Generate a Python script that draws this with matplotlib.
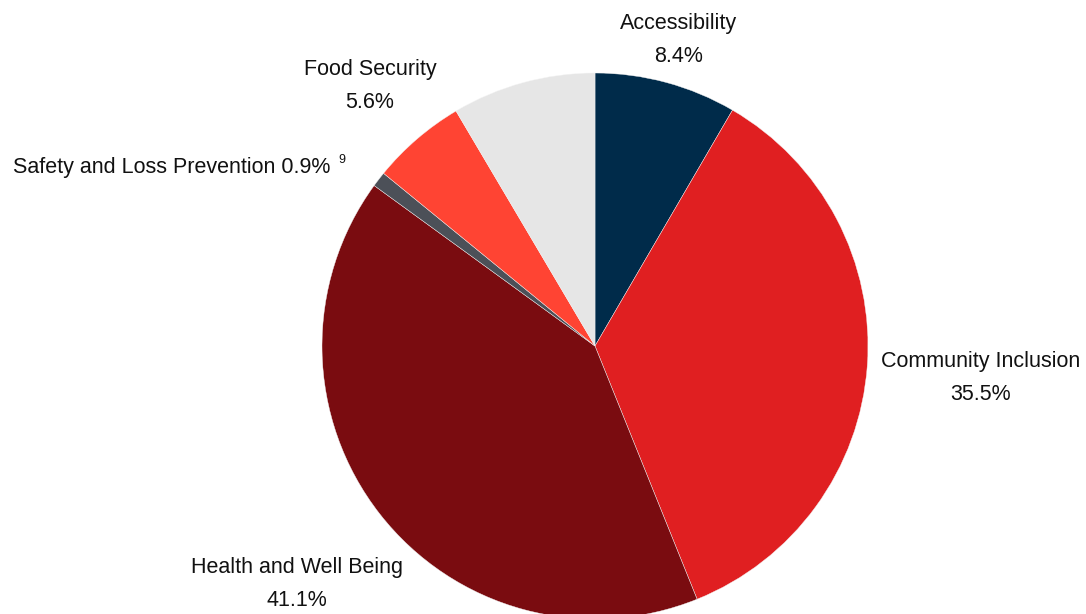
import matplotlib
matplotlib.use("Agg")
import matplotlib.pyplot as plt

categories = ["Accessibility", "Community Inclusion", "Health and Well Being",
              "Safety and Loss Prevention", "Food Security", ""]
values = [8.4, 35.5, 41.1, 0.9, 5.6, 8.5]
colors = ["#002b4a", "#e01f21", "#7a0c10", "#4c5058", "#ff4433", "#e6e6e6"]

plt.rcParams['font.family'] = ['Liberation Sans', 'DejaVu Sans']

fig = plt.figure(figsize=(10.86, 6.14), dpi=100)
ax = fig.add_axes([0, 0, 1, 1])

cx, cy, r = 595, 614 - 346, 273
ax.pie(values, colors=colors, startangle=90, counterclock=False,
       center=(cx, cy), radius=r, frame=True,
       wedgeprops=dict(edgecolor='#f4f4f4', linewidth=0.3))
ax.set_xlim(0, 1086)
ax.set_ylim(0, 614)
ax.set_aspect('equal')
ax.axis('off')

fs = 15.5
def lab(x, y, name, val):
    ax.text(x, 614 - y, name, ha='center', va='center', fontsize=fs, color='#111111')
    ax.text(x, 614 - y - 32, f"{val}%", ha='center', va='center', fontsize=fs, color='#111111')

lab(679, 24, categories[0], values[0])
lab(981, 362, categories[1], values[1])
lab(297, 568, categories[2], values[2])
lab(370, 70, categories[4], values[4])
ax.text(330, 614 - 168, f"{categories[3]} {values[3]}%", ha='right', va='center',
        fontsize=fs, color='#111111')
ax.text(342, 614 - 160, "9", ha='center', va='center', fontsize=9, color='#111111')

fig.savefig("out.png", dpi=100)
